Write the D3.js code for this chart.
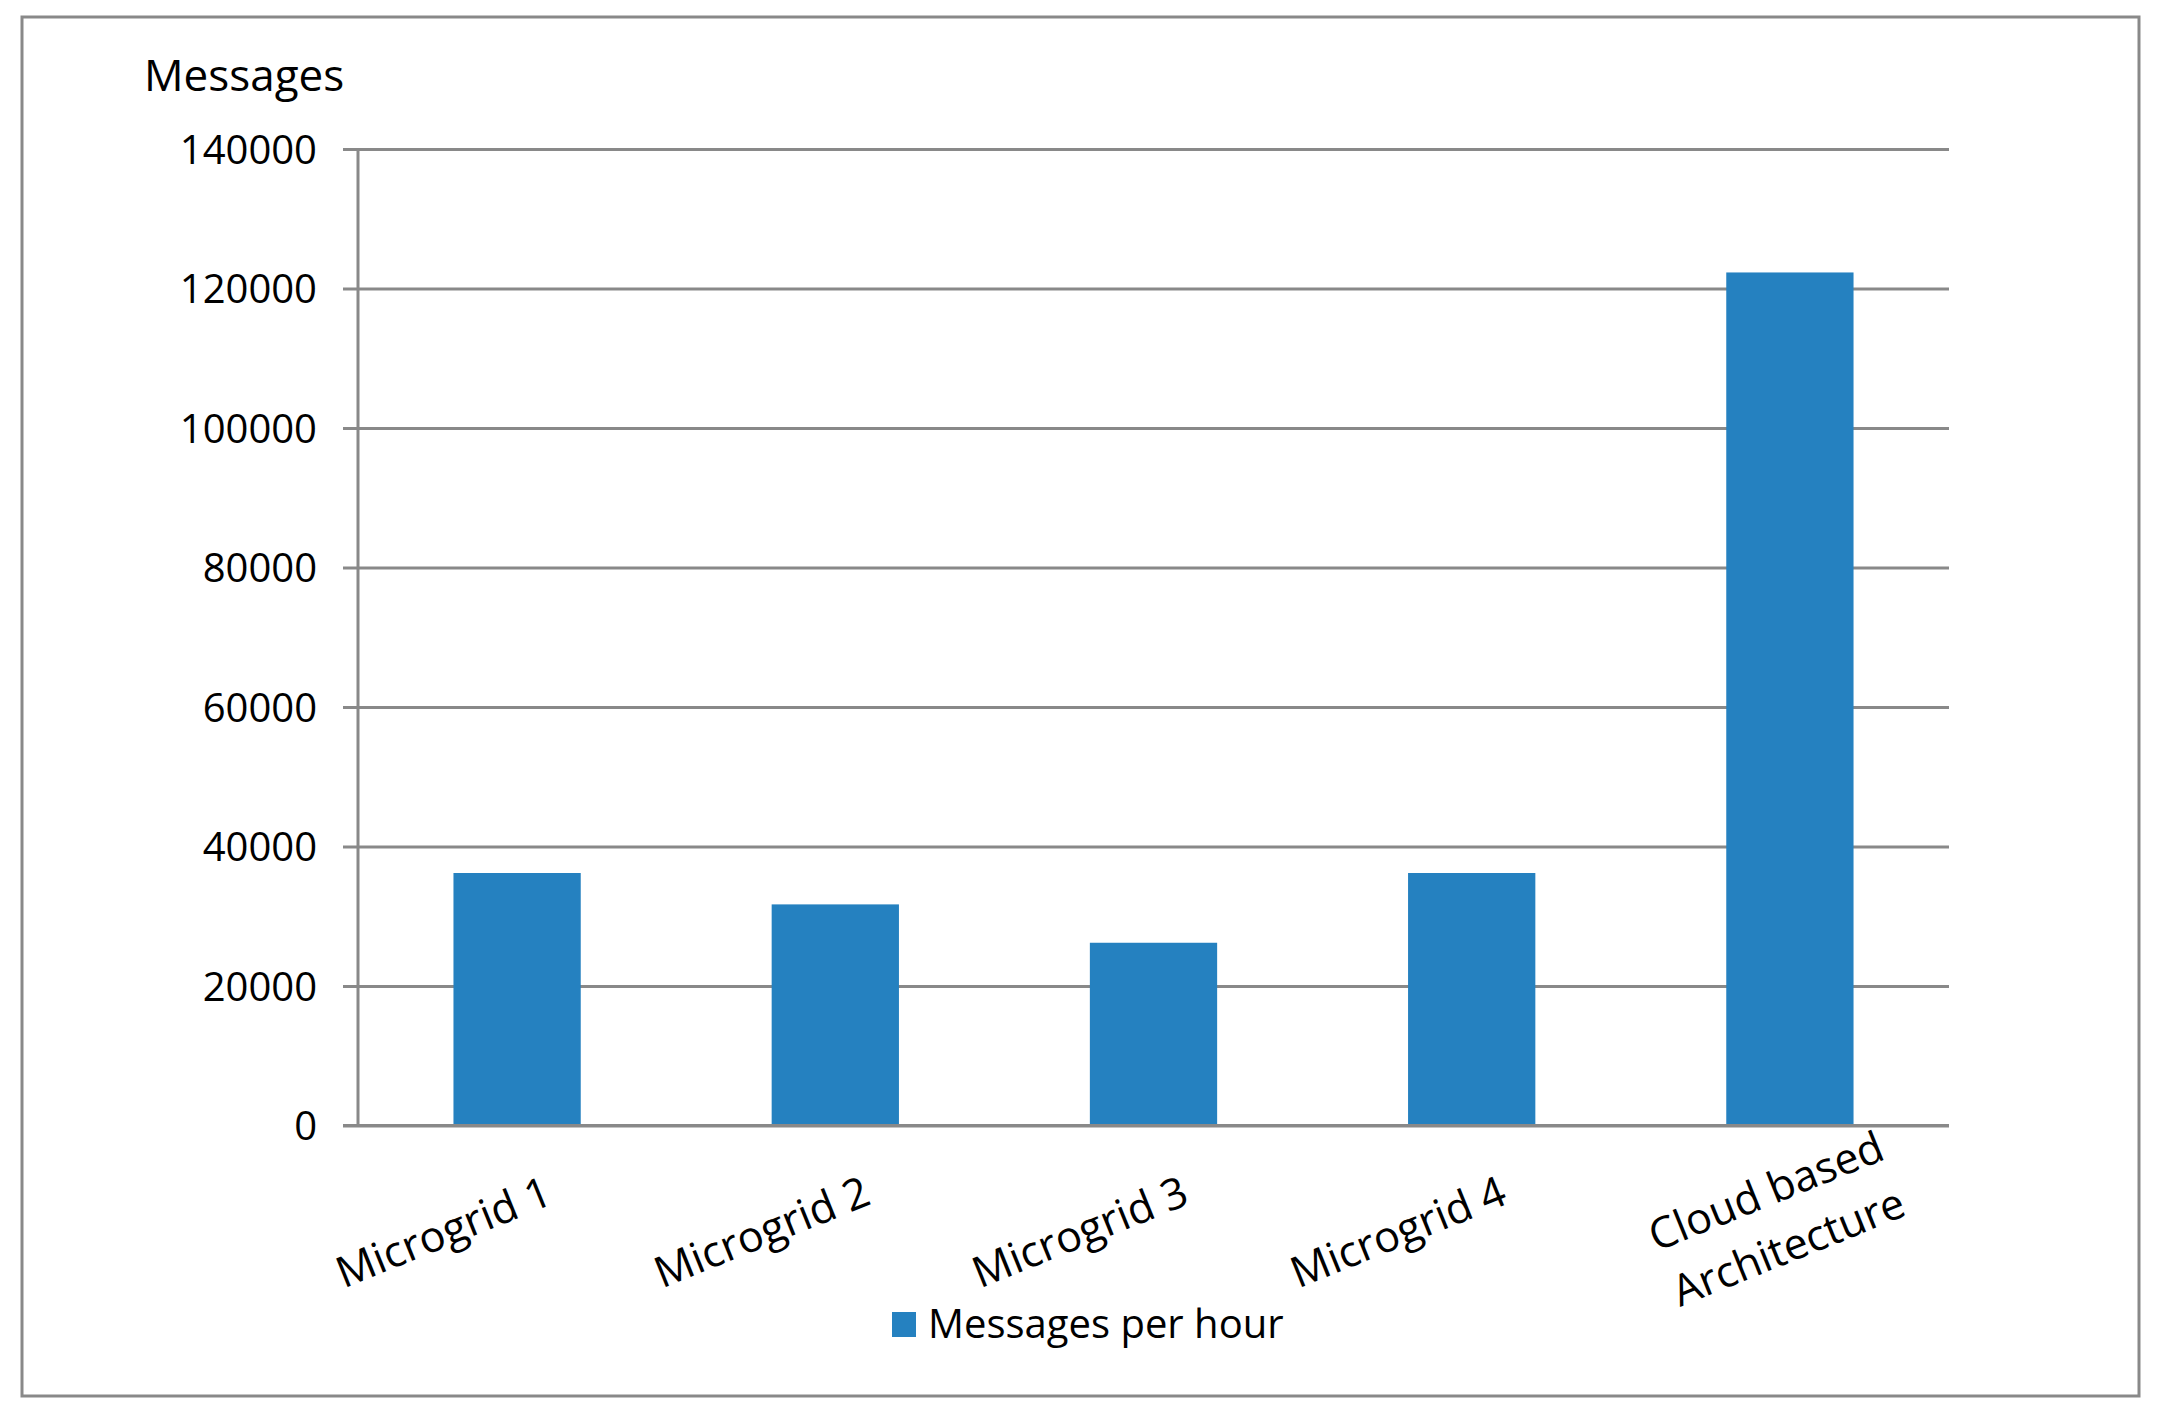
<!DOCTYPE html>
<html>
<head>
<meta charset="utf-8">
<script src="https://cdn.jsdelivr.net/npm/d3@7/dist/d3.min.js"></script>
<style>
  html, body { margin: 0; padding: 0; background: #ffffff; }
  svg { display: block; }
  text { font-family: "Open Sans", Lato, "DejaVu Sans", sans-serif; fill: #000; }
</style>
</head>
<body>
<script>
// ---- data ----
const categories = ["Microgrid 1", "Microgrid 2", "Microgrid 3", "Microgrid 4", "Cloud based Architecture"];
const messagesPerHour = [36200, 31700, 26200, 36200, 122300];
const yTickValues = [0, 20000, 40000, 60000, 80000, 100000, 120000, 140000];
const seriesName = "Messages per hour";
const yAxisTitle = "Messages";

// ---- layout ----
const W = 2160, H = 1421;
const plot = { left: 358, right: 1949, top: 149, bottom: 1125.5 };
const gridStart = 343;
const gray = "#898989";
const barColor = "#2581c0";
const font = "'Open Sans', Lato, sans-serif";

const svg = d3.select("body").append("svg")
  .attr("width", W).attr("height", H)
  .attr("viewBox", `0 0 ${W} ${H}`);

svg.append("rect").attr("width", W).attr("height", H).attr("fill", "#fff");

// outer frame
svg.append("rect")
  .attr("x", 22).attr("y", 17)
  .attr("width", 2117).attr("height", 1379)
  .attr("fill", "none").attr("stroke", gray).attr("stroke-width", 3);

const y = d3.scaleLinear().domain([0, 140000]).range([plot.bottom, plot.top]);
const x = d3.scaleBand().domain(categories)
  .range([plot.left, plot.right])
  .paddingInner(0.6).paddingOuter(0.3);

// y axis with gridlines
const yAxis = d3.axisLeft(y)
  .tickValues(yTickValues)
  .tickFormat(d3.format("d"))
  .tickSize(-(plot.right - gridStart))
  .tickPadding(26);

const yg = svg.append("g")
  .attr("transform", `translate(${gridStart},0)`)
  .call(yAxis);
yg.select(".domain").remove();
yg.selectAll(".tick line").attr("stroke", gray).attr("stroke-width", 3);
yg.selectAll(".tick text")
  .attr("font-size", 40)
  .attr("font-family", font)
  .attr("fill", "#000")
  .attr("dy", "0.36em");

// vertical axis line
svg.append("line")
  .attr("x1", plot.left).attr("x2", plot.left)
  .attr("y1", plot.top).attr("y2", plot.bottom)
  .attr("stroke", gray).attr("stroke-width", 3);

// bars
svg.append("g").selectAll("rect")
  .data(categories.map((c, i) => ({ c, v: messagesPerHour[i] })))
  .join("rect")
  .attr("x", d => x(d.c))
  .attr("width", x.bandwidth())
  .attr("y", d => y(d.v))
  .attr("height", d => y(0) - y(d.v) - 1.5)
  .attr("fill", barColor);

// baseline redrawn above bars
svg.append("line")
  .attr("x1", gridStart).attr("x2", plot.right)
  .attr("y1", y(0)).attr("y2", y(0))
  .attr("stroke", gray).attr("stroke-width", 3);

// category labels (rotated)
function splitLabel(s) {
  if (s.length <= 12) return [s];
  const words = s.split(" ");
  const mid = s.length / 2;
  let best = 1, bestDiff = Infinity;
  for (let i = 1; i < words.length; i++) {
    const pos = words.slice(0, i).join(" ").length;
    if (Math.abs(pos - mid) < bestDiff) { bestDiff = Math.abs(pos - mid); best = i; }
  }
  return [words.slice(0, best).join(" "), words.slice(best).join(" ")];
}
const angle = -22;
const lineH = 60;
const xl = svg.append("g");
categories.forEach(c => {
  const lines = splitLabel(c);
  const cx = x(c) + x.bandwidth() / 2;
  const multi = lines.length > 1;
  const tx = cx + (multi ? -7 : -68);
  const ty = multi ? 1233 : 1246;
  const g = xl.append("g").attr("transform", `translate(${tx},${ty}) rotate(${angle})`);
  const t = g.append("text")
    .attr("text-anchor", "middle")
    .attr("font-size", 43);
  lines.forEach((ln, i) => {
    t.append("tspan")
      .attr("x", 0)
      .attr("y", (i - (lines.length - 1) / 2) * lineH)
      .text(ln);
  });
});

// y axis title
svg.append("text")
  .attr("x", 144).attr("y", 91)
  .attr("font-size", 44)
  .text(yAxisTitle);

// legend
const lg = svg.append("g");
lg.append("rect")
  .attr("x", 892).attr("y", 1312)
  .attr("width", 24).attr("height", 25)
  .attr("fill", barColor);
lg.append("text")
  .attr("x", 928).attr("y", 1338)
  .attr("font-size", 40)
  .text(seriesName);
</script>
</body>
</html>
